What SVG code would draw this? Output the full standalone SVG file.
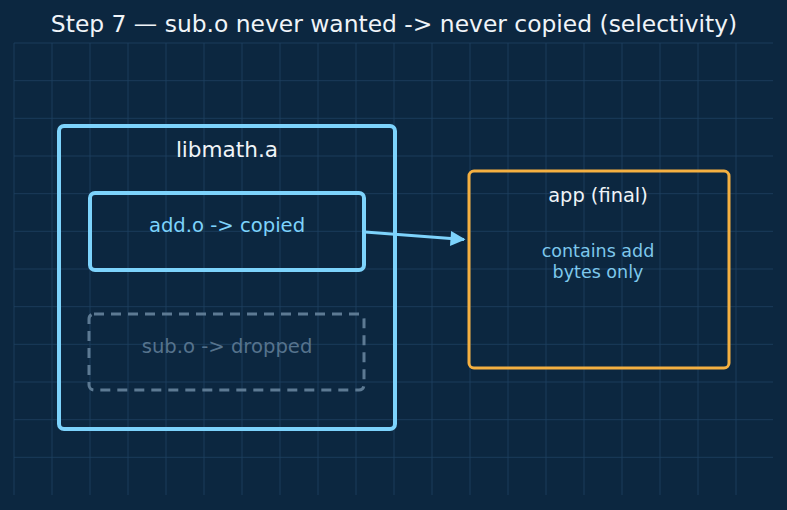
<svg xmlns="http://www.w3.org/2000/svg" width="787" height="510" viewBox="0 0 787 510">
<style>
text{font-family:"DejaVu Sans","Liberation Sans",sans-serif;text-anchor:middle}
.grid line{stroke:#1f4262;stroke-width:1;opacity:0.8}
.lib{fill:none;stroke:#7dd3fc;stroke-width:4}
.drop{fill:none;stroke:#5d7a93;stroke-width:3;stroke-dasharray:10 7}
.app{fill:none;stroke:#f5b041;stroke-width:3}
.conn{stroke:#7dd3fc;stroke-width:3;fill:none}
</style>
<defs>
<marker id="ah" viewBox="0 0 10 10" refX="9" refY="5" markerWidth="6" markerHeight="5" markerUnits="strokeWidth" orient="auto">
<path d="M0,0 L10,5 L0,10 Z" fill="#7dd3fc"/>
</marker>
</defs>
<rect width="787" height="510" fill="#0c2740"/>
<g class="grid">
<line x1="14" y1="43" x2="773" y2="43"/>
<line x1="14" y1="80.7" x2="773" y2="80.7"/>
<line x1="14" y1="118.3" x2="773" y2="118.3"/>
<line x1="14" y1="156" x2="773" y2="156"/>
<line x1="14" y1="193.7" x2="773" y2="193.7"/>
<line x1="14" y1="231.3" x2="773" y2="231.3"/>
<line x1="14" y1="269" x2="773" y2="269"/>
<line x1="14" y1="306.7" x2="773" y2="306.7"/>
<line x1="14" y1="344.3" x2="773" y2="344.3"/>
<line x1="14" y1="382" x2="773" y2="382"/>
<line x1="14" y1="419.7" x2="773" y2="419.7"/>
<line x1="14" y1="457.3" x2="773" y2="457.3"/>
<line x1="14" y1="43" x2="14" y2="495"/>
<line x1="52" y1="43" x2="52" y2="495"/>
<line x1="90" y1="43" x2="90" y2="495"/>
<line x1="128" y1="43" x2="128" y2="495"/>
<line x1="166" y1="43" x2="166" y2="495"/>
<line x1="204" y1="43" x2="204" y2="495"/>
<line x1="242" y1="43" x2="242" y2="495"/>
<line x1="280" y1="43" x2="280" y2="495"/>
<line x1="318" y1="43" x2="318" y2="495"/>
<line x1="356" y1="43" x2="356" y2="495"/>
<line x1="394" y1="43" x2="394" y2="495"/>
<line x1="432" y1="43" x2="432" y2="495"/>
<line x1="470" y1="43" x2="470" y2="495"/>
<line x1="508" y1="43" x2="508" y2="495"/>
<line x1="546" y1="43" x2="546" y2="495"/>
<line x1="584" y1="43" x2="584" y2="495"/>
<line x1="622" y1="43" x2="622" y2="495"/>
<line x1="660" y1="43" x2="660" y2="495"/>
<line x1="698" y1="43" x2="698" y2="495"/>
<line x1="736" y1="43" x2="736" y2="495"/>
</g>
<text x="394" y="32" font-size="23.4" fill="#f0f4f8">Step 7 — sub.o never wanted -&gt; never copied (selectivity)</text>
<g id="libmath">
<rect class="lib" x="59" y="126" width="336" height="303" rx="5"/>
<text x="227" y="157" font-size="21.6" fill="#f0f4f8">libmath.a</text>
</g>
<g id="add">
<rect class="lib" x="90" y="193" width="274" height="77" rx="5"/>
<text x="227" y="232" font-size="19.6" fill="#7dd3fc">add.o -&gt; copied</text>
</g>
<g id="sub">
<rect class="drop" x="89" y="314" width="275" height="76" rx="5"/>
<text x="227" y="353" font-size="19.6" fill="#56738d">sub.o -&gt; dropped</text>
</g>
<g id="app">
<rect class="app" x="469" y="171" width="260" height="197" rx="5"/>
<text x="598" y="202" font-size="19.4" fill="#f0f4f8">app (final)</text>
<text x="598" y="257" font-size="17.5" fill="#7ec8ec">contains add</text>
<text x="598" y="278" font-size="17.5" fill="#7ec8ec">bytes only</text>
</g>
<g id="connectors">
<line class="conn" x1="365" y1="232" x2="464" y2="239.5" marker-end="url(#ah)"/>
</g>
</svg>
